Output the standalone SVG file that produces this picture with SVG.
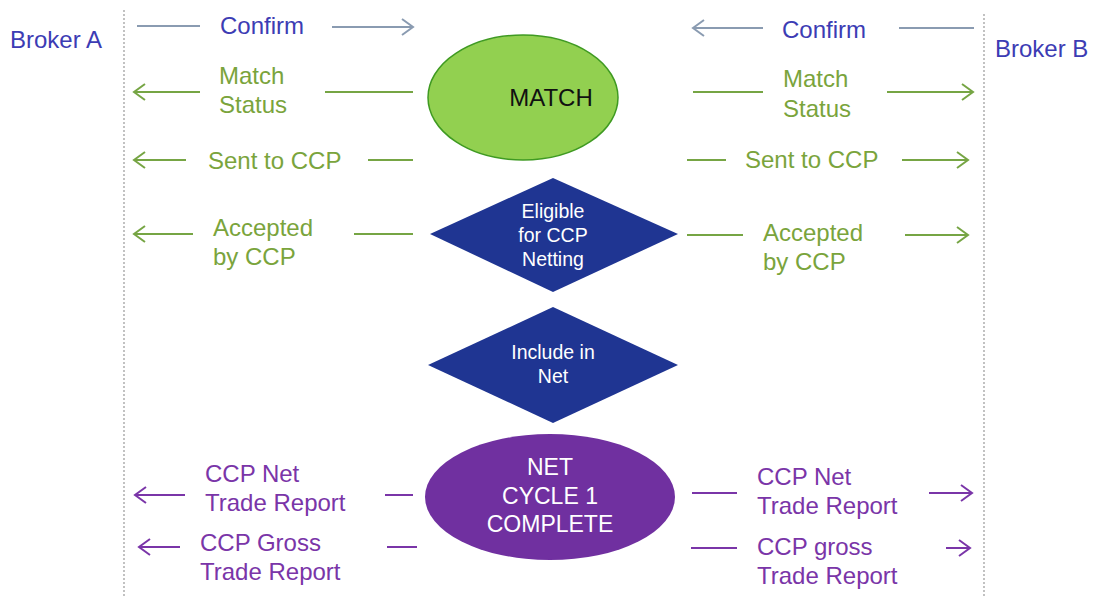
<svg xmlns="http://www.w3.org/2000/svg" width="1094" height="598" viewBox="0 0 1094 598">
<defs>
<style>
text{font-family:"Liberation Sans",Arial,sans-serif;font-size:24px}
.blue{fill:#3c3cb4}
.grn{fill:#7aa43c}
.pur{fill:#7a35a8}
.wt{fill:#ffffff}
.c{text-anchor:middle}
.d{font-size:19.5px}
.lg{stroke:#8a9bb1;stroke-width:2;fill:none}
.lgr{stroke:#76a544;stroke-width:2;fill:none}
.lp{stroke:#7a35a8;stroke-width:2;fill:none}
.sep{stroke:#999999;stroke-width:1.2;stroke-dasharray:2 2;fill:none}
</style>
</defs>
<rect width="1094" height="598" fill="#ffffff"/>
<g id="brokerA"><line class="sep" x1="124" y1="10" x2="124" y2="598"/><text class="blue" x="10" y="48">Broker A</text></g>
<g id="brokerB"><line class="sep" x1="984" y1="14" x2="984" y2="598"/><text class="blue" x="995" y="57">Broker B</text></g>

<g id="match"><ellipse cx="523" cy="97.5" rx="95" ry="62.5" fill="#92d050" stroke="#3f9a22" stroke-width="1.5"/><text x="551" y="106" class="c" fill="#111">MATCH</text></g>
<g id="eligible"><polygon points="430,234 553,178 678,234 553,292" fill="#1f3592"/>
<text class="wt c d" x="553" y="218">Eligible</text>
<text class="wt c d" x="553" y="242">for CCP</text>
<text class="wt c d" x="553" y="266">Netting</text></g>
<g id="include"><polygon points="428,365 553,307 678,365 553,423" fill="#1f3592"/>
<text class="wt c d" x="553" y="359">Include in</text>
<text class="wt c d" x="553" y="383">Net</text></g>
<g id="net"><ellipse cx="550" cy="497" rx="125" ry="63" fill="#7030a0"/>
<text class="wt c" x="550" y="475" style="font-size:23px">NET</text>
<text class="wt c" x="550" y="504" style="font-size:23px">CYCLE 1</text>
<text class="wt c" x="550" y="532" style="font-size:23px">COMPLETE</text></g>

<g id="connectors">
<path class="lg" d="M137 26H200 M332 27H413 M402 19L413 27L402 35"/>
<path class="lg" d="M693 28H763 M899 28H974 M704 20L693 28L704 36"/>
<path class="lgr" d="M134 92H200 M325 92H413 M145 84L134 92L145 100"/>
<path class="lgr" d="M693 92H763 M887 92H973 M962 84L973 92L962 100"/>
<path class="lgr" d="M134 160H186 M368 160H413 M145 152L134 160L145 168"/>
<path class="lgr" d="M687 160H726 M902 160H968 M957 152L968 160L957 168"/>
<path class="lgr" d="M134 234H193 M354 234H413 M145 226L134 234L145 242"/>
<path class="lgr" d="M687 235H743 M905 235H968 M957 227L968 235L957 243"/>
<path class="lp" d="M135 495H185 M385 495H413 M146 487L135 495L146 503"/>
<path class="lp" d="M692 493H737 M929 493H972 M961 485L972 493L961 501"/>
<path class="lp" d="M139 547H180 M387 547H417 M150 539L139 547L150 555"/>
<path class="lp" d="M691 548H737 M946 548H970 M959 540L970 548L959 556"/>
</g>

<g id="labels">
<text class="blue" x="220" y="34">Confirm</text>
<text class="blue" x="782" y="38">Confirm</text>
<text class="grn" x="219" y="84">Match</text>
<text class="grn" x="219" y="113">Status</text>
<text class="grn" x="783" y="87">Match</text>
<text class="grn" x="783" y="117">Status</text>
<text class="grn" x="208" y="169">Sent to CCP</text>
<text class="grn" x="745" y="168">Sent to CCP</text>
<text class="grn" x="213" y="236">Accepted</text>
<text class="grn" x="213" y="265">by CCP</text>
<text class="grn" x="763" y="241">Accepted</text>
<text class="grn" x="763" y="270">by CCP</text>
<text class="pur" x="205" y="482">CCP Net</text>
<text class="pur" x="205" y="511">Trade Report</text>
<text class="pur" x="200" y="551">CCP Gross</text>
<text class="pur" x="200" y="580">Trade Report</text>
<text class="pur" x="757" y="485">CCP Net</text>
<text class="pur" x="757" y="514">Trade Report</text>
<text class="pur" x="757" y="555">CCP gross</text>
<text class="pur" x="757" y="584">Trade Report</text>
</g>
</svg>
